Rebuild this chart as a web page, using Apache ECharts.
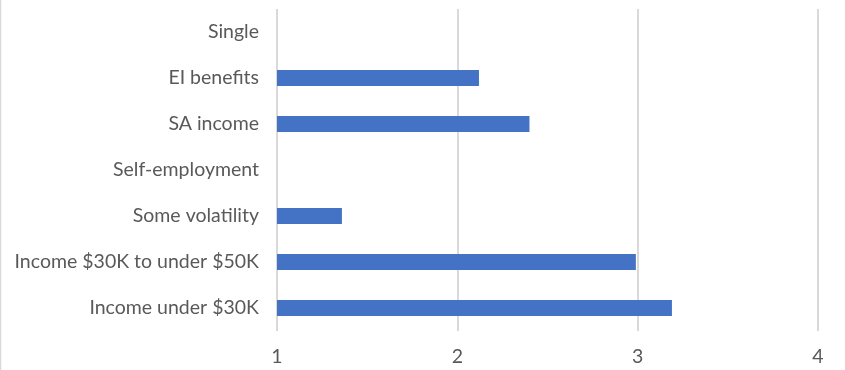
<!DOCTYPE html>
<html>
<head>
<meta charset="utf-8">
<script src="https://cdn.jsdelivr.net/npm/echarts@6/dist/echarts.min.js"></script>
<style>
html,body{margin:0;padding:0;background:#fff;}
#chart{width:845px;height:370px;}
</style>
</head>
<body>
<div id="chart"></div>
<script>
const categories = ["Income under $30K", "Income $30K to under $50K", "Some volatility", "Self-employment", "SA income", "EI benefits", "Single"];
const values = [3.19, 2.99, 1.36, null, 2.40, 2.12, null];
const xTicks = [1, 2, 3, 4];

const chart = echarts.init(document.getElementById('chart'));
chart.setOption({
  animation: false,
  backgroundColor: '#fff',
  graphic: [{
    type: 'rect',
    shape: {x: 0.5, y: -2, width: 860, height: 380},
    style: {fill: 'none', stroke: '#d9d9d9', lineWidth: 1.5}
  }],
  grid: {left: 277, right: 27, top: 9, bottom: 39, containLabel: false},
  xAxis: {
    type: 'value',
    min: xTicks[0],
    max: xTicks[xTicks.length - 1],
    interval: 1,
    axisLine: {show: false},
    axisTick: {show: false},
    splitLine: {show: true, lineStyle: {color: '#d9d9d9', width: 2}},
    axisLabel: {color: '#595959', fontSize: 19.5, fontFamily: 'Lato', margin: 16}
  },
  yAxis: {
    type: 'category',
    data: categories,
    axisLine: {show: false},
    axisTick: {show: false},
    axisLabel: {color: '#595959', fontSize: 19.5, fontFamily: 'Lato', margin: 18}
  },
  series: [{
    type: 'bar',
    data: values,
    barWidth: 16,
    clip: true,
    itemStyle: {color: '#4472c4'}
  }]
});
</script>
</body>
</html>
